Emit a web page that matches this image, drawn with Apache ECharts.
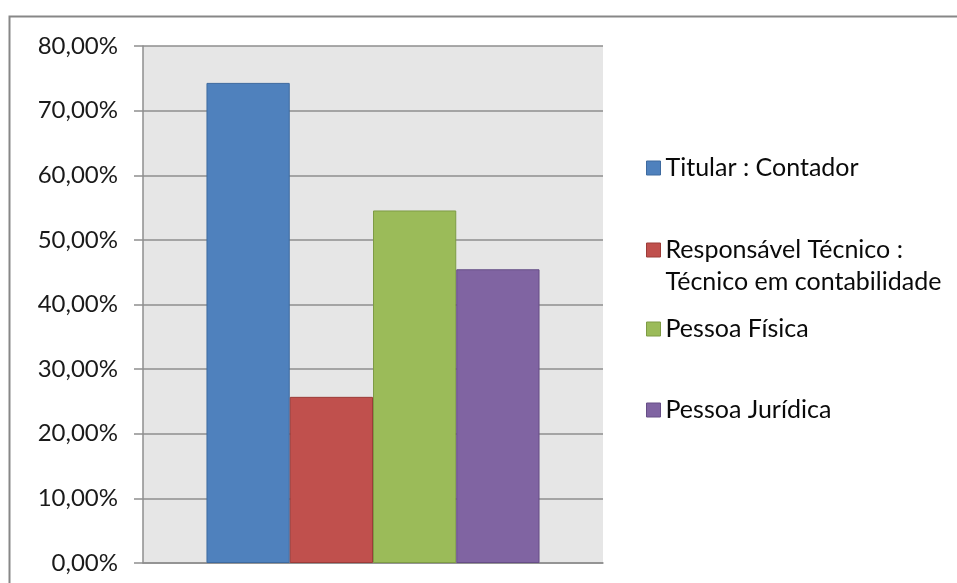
<!DOCTYPE html>
<html>
<head>
<meta charset="utf-8">
<script src="https://cdn.jsdelivr.net/npm/echarts@6/dist/echarts.min.js"></script>
<style>
  html, body { margin: 0; padding: 0; background: #fff; }
  #chart { width: 957px; height: 583px; }
</style>
</head>
<body>
<div id="chart"></div>
<script>
// Categories and values (share of respondents, %)
const seriesNames = [
  'Titular : Contador',
  'Responsável Técnico :\nTécnico em contabilidade',
  'Pessoa Física',
  'Pessoa Jurídica'
];
const seriesValues = [74.29, 25.71, 54.55, 45.45];
const seriesColors = ['#4F81BD', '#C0504D', '#9BBB59', '#8064A2'];
const seriesBorders = ['#3E6A9F', '#9C3C39', '#7E9B45', '#664E86'];
const categories = [''];
const yTicks = [0, 10, 20, 30, 40, 50, 60, 70, 80];

const FONT = 'Lato';

const chart = echarts.init(document.getElementById('chart'), null, { renderer: 'canvas' });

// Legend item vertical centres (one legend block per series)
const legendCenters = [168, 250, 329, 410];
const LINE_H = 32;
const ICON = 14;

const legends = seriesNames.map((name, i) => {
  const multi = name.includes('\n');
  // a two-line entry gets a blank leading line so its first line sits beside the marker
  const lines = multi ? 3 : 1;
  return {
    show: true,
    orient: 'vertical',
    left: 646,
    top: legendCenters[i] - (LINE_H * lines) / 2,
    padding: 0,
    itemWidth: ICON,
    itemHeight: ICON,
    icon: 'rect',
    selectedMode: false,
    formatter: n => (multi ? '\n' + n : n),
    data: [{ name: name, itemStyle: { borderColor: seriesBorders[i], borderWidth: 1 } }],
    textStyle: { fontFamily: FONT, fontSize: 25, color: '#0a0a0a', lineHeight: LINE_H }
  };
});

const option = {
  animation: false,
  backgroundColor: '#ffffff',
  textStyle: { fontFamily: FONT },
  grid: {
    left: 143, top: 46, right: 354, bottom: 20,
    show: true,
    backgroundColor: '#E6E6E6',
    borderWidth: 0
  },
  legend: legends,
  xAxis: {
    type: 'category',
    data: categories,
    axisLine: { show: true, lineStyle: { color: '#8E8E8E', width: 1.5 } },
    axisTick: { show: false },
    axisLabel: { show: false },
    splitLine: { show: false }
  },
  yAxis: {
    type: 'value',
    min: yTicks[0],
    max: yTicks[yTicks.length - 1],
    interval: 10,
    axisLine: { show: true, lineStyle: { color: '#8E8E8E', width: 1.5 } },
    axisTick: { show: true, length: 9, lineStyle: { color: '#8E8E8E', width: 1.5 } },
    axisLabel: {
      margin: 25,
      fontFamily: FONT,
      fontSize: 24,
      color: '#1a1a1a',
      formatter: v => v.toFixed(2).replace('.', ',') + '%'
    },
    splitLine: { show: true, lineStyle: { color: '#8E8E8E', width: 1.5 } }
  },
  series: seriesNames.map((name, i) => ({
    name: name,
    type: 'bar',
    data: [seriesValues[i]],
    barGap: '0%',
    barCategoryGap: '27.6%',
    itemStyle: {
      color: seriesColors[i],
      borderColor: seriesBorders[i],
      borderWidth: 1
    }
  })),
  graphic: [{
    type: 'rect',
    shape: { x: 9.5, y: 16.5, width: 1200, height: 1200 },
    style: { fill: null, stroke: '#878787', lineWidth: 2 },
    silent: true,
    z: 100
  }]
};

chart.setOption(option);
</script>
</body>
</html>
